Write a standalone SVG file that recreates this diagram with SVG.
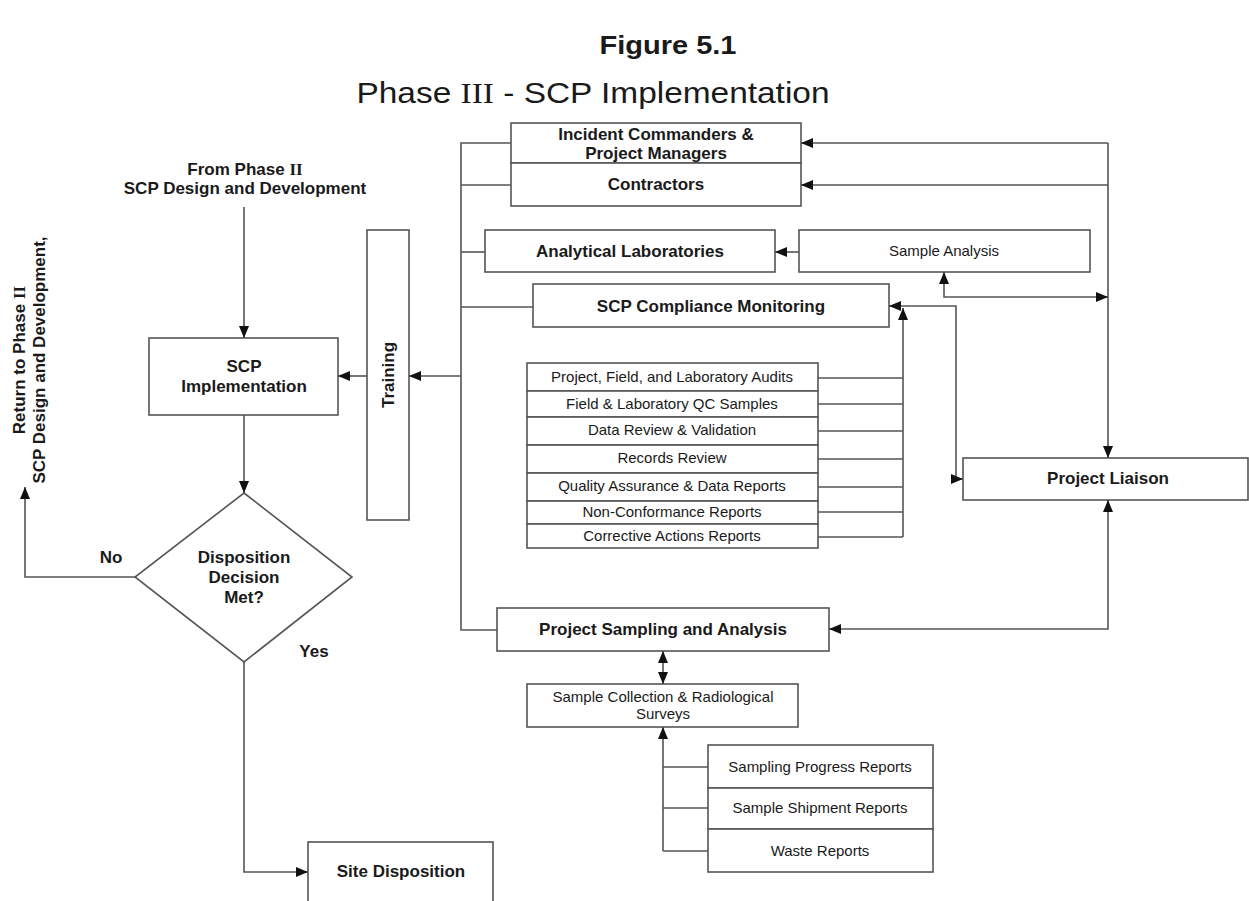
<svg xmlns="http://www.w3.org/2000/svg" width="1249" height="901" viewBox="0 0 1249 901">
<defs>
<marker id="ah" viewBox="0 0 12 10" refX="12" refY="5" markerWidth="12" markerHeight="10" markerUnits="userSpaceOnUse" orient="auto-start-reverse">
<path d="M0,0 L12,5 L0,10 Z" fill="#111"/>
</marker>
<style>
.box{fill:#fff;stroke:#555;stroke-width:1.6}
.ln{fill:none;stroke:#555;stroke-width:1.6}
.b{font-family:"Liberation Sans",Arial,sans-serif;font-weight:bold;font-size:17px;fill:#1a1a1a;text-anchor:middle}
.r{font-family:"Liberation Sans",Arial,sans-serif;font-size:15px;fill:#1a1a1a;text-anchor:middle}
.rom{font-family:"Liberation Serif","Times New Roman",serif}
</style>
</defs>
<rect width="1249" height="901" fill="#fff"/>

<g id="title">
<text x="668" y="54" class="b" style="font-size:25px" textLength="137" lengthAdjust="spacingAndGlyphs">Figure 5.1</text>
<text x="593" y="103" font-family="Liberation Sans, Arial, sans-serif" font-size="30" fill="#1a1a1a" text-anchor="middle" textLength="473" lengthAdjust="spacingAndGlyphs">Phase <tspan class="rom">III</tspan> - SCP Implementation</text>
</g>

<g id="from-phase2">
<text x="245" y="175" class="b">From Phase <tspan class="rom">II</tspan></text>
<text x="245" y="194" class="b">SCP Design and Development</text>
</g>

<g id="return-phase2">
<text transform="translate(25,360) rotate(-90)" class="b">Return to Phase <tspan class="rom">II</tspan></text>
<text transform="translate(45,360) rotate(-90)" class="b">SCP Design and Development,</text>
</g>

<g id="scp-implementation">
<rect class="box" x="149" y="338" width="189" height="77"/>
<text x="244" y="372" class="b">SCP</text>
<text x="244" y="392" class="b">Implementation</text>
</g>

<g id="training">
<rect class="box" x="367" y="230" width="42" height="290"/>
<text transform="translate(394,375) rotate(-90)" class="b">Training</text>
</g>

<g id="decision">
<polygon class="box" points="244,493 352,577 244,662 135,577"/>
<text x="244" y="563" class="b">Disposition</text>
<text x="244" y="583" class="b">Decision</text>
<text x="244" y="603" class="b">Met?</text>
</g>

<g id="labels">
<text x="111" y="563" class="b">No</text>
<text x="314" y="657" class="b">Yes</text>
</g>

<g id="site-disposition">
<rect class="box" x="308" y="842" width="185" height="80"/>
<text x="401" y="877" class="b">Site Disposition</text>
</g>

<g id="incident-commanders">
<rect class="box" x="511" y="123" width="290" height="40"/>
<text x="656" y="140" class="b">Incident Commanders &amp;</text>
<text x="656" y="159" class="b">Project Managers</text>
</g>

<g id="contractors">
<rect class="box" x="511" y="163" width="290" height="43"/>
<text x="656" y="190" class="b">Contractors</text>
</g>

<g id="analytical-labs">
<rect class="box" x="485" y="230" width="290" height="42"/>
<text x="630" y="257" class="b">Analytical Laboratories</text>
</g>

<g id="sample-analysis">
<rect class="box" x="799" y="230" width="291" height="42"/>
<text x="944" y="256" class="r">Sample Analysis</text>
</g>

<g id="compliance">
<rect class="box" x="533" y="284" width="356" height="43"/>
<text x="711" y="312" class="b">SCP Compliance Monitoring</text>
</g>

<g id="compliance-items">
<rect class="box" x="527" y="363" width="291" height="28"/>
<text x="672" y="382" class="r">Project, Field, and Laboratory Audits</text>
<rect class="box" x="527" y="391" width="291" height="26"/>
<text x="672" y="409" class="r">Field &amp; Laboratory QC Samples</text>
<rect class="box" x="527" y="417" width="291" height="28"/>
<text x="672" y="435" class="r">Data Review &amp; Validation</text>
<rect class="box" x="527" y="445" width="291" height="28"/>
<text x="672" y="463" class="r">Records Review</text>
<rect class="box" x="527" y="473" width="291" height="28"/>
<text x="672" y="491" class="r">Quality Assurance &amp; Data Reports</text>
<rect class="box" x="527" y="501" width="291" height="23"/>
<text x="672" y="517" class="r">Non-Conformance Reports</text>
<rect class="box" x="527" y="524" width="291" height="24"/>
<text x="672" y="541" class="r">Corrective Actions Reports</text>
</g>

<g id="project-liaison">
<rect class="box" x="963" y="458" width="285" height="42"/>
<text x="1108" y="484" class="b">Project Liaison</text>
</g>

<g id="project-sampling">
<rect class="box" x="497" y="608" width="332" height="43"/>
<text x="663" y="635" class="b">Project Sampling and Analysis</text>
</g>

<g id="sample-collection">
<rect class="box" x="527" y="684" width="271" height="43"/>
<text x="663" y="702" class="r">Sample Collection &amp; Radiological</text>
<text x="663" y="719" class="r">Surveys</text>
</g>

<g id="sampling-reports">
<rect class="box" x="708" y="745" width="225" height="43"/>
<text x="820" y="772" class="r">Sampling Progress Reports</text>
<rect class="box" x="708" y="788" width="225" height="41"/>
<text x="820" y="813" class="r">Sample Shipment Reports</text>
<rect class="box" x="708" y="829" width="225" height="43"/>
<text x="820" y="856" class="r">Waste Reports</text>
</g>

<g id="connectors">
<path class="ln" d="M244,207 V338" marker-end="url(#ah)"/>
<path class="ln" d="M244,415 V493" marker-end="url(#ah)"/>
<path class="ln" d="M135,577 H25 V487" marker-end="url(#ah)"/>
<path class="ln" d="M244,662 V872 H308" marker-end="url(#ah)"/>
<path class="ln" d="M367,376 H338" marker-end="url(#ah)"/>
<path class="ln" d="M461,376 H409" marker-end="url(#ah)"/>
<path class="ln" d="M511,143 H461 V630 H497"/>
<path class="ln" d="M461,185 H511"/>
<path class="ln" d="M461,252 H485"/>
<path class="ln" d="M461,307 H533"/>
<path class="ln" d="M1108,143 H801" marker-end="url(#ah)"/>
<path class="ln" d="M1108,185 H801" marker-end="url(#ah)"/>
<path class="ln" d="M1108,143 V458" marker-end="url(#ah)"/>
<path class="ln" d="M799,252 H775" marker-end="url(#ah)"/>
<path class="ln" d="M944,272 V297 H1108" marker-start="url(#ah)" marker-end="url(#ah)"/>
<path class="ln" d="M889,306 H956 V479 H963" marker-start="url(#ah)" marker-end="url(#ah)"/>
<path class="ln" d="M903,537 V308" marker-end="url(#ah)"/>
<path class="ln" d="M818,378 H903 M818,404 H903 M818,431 H903 M818,459 H903 M818,487 H903 M818,512 H903 M818,537 H903"/>
<path class="ln" d="M829,629 H1108 V500" marker-start="url(#ah)" marker-end="url(#ah)"/>
<path class="ln" d="M663,651 V684" marker-start="url(#ah)" marker-end="url(#ah)"/>
<path class="ln" d="M663,851 V727" marker-end="url(#ah)"/>
<path class="ln" d="M708,767 H663 M708,808 H663 M708,851 H663"/>
</g>
</svg>
